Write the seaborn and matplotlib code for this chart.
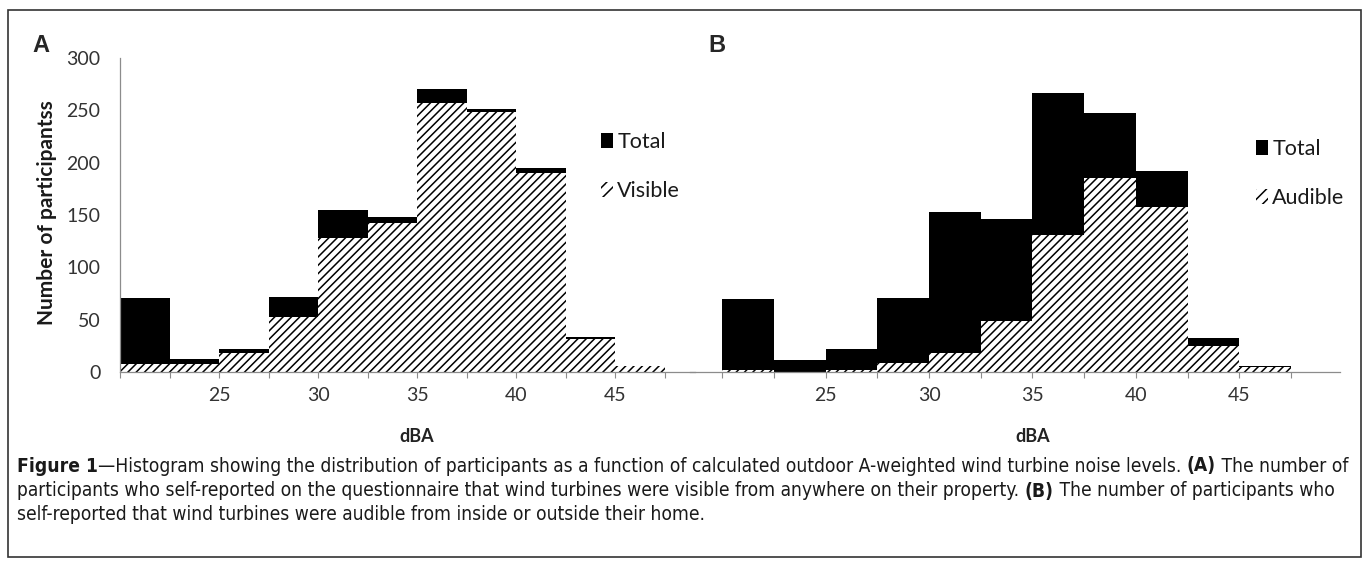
import matplotlib
matplotlib.use("Agg")
import matplotlib.pyplot as plt
import seaborn as sns
import pandas as pd
from matplotlib.patches import Patch, Rectangle
from matplotlib.ticker import FixedLocator
from matplotlib.transforms import blended_transform_factory

# ---------------- data ----------------
bin_edges = [20, 22.5, 25, 27.5, 30, 32.5, 35, 37.5, 40, 42.5, 45, 47.5]
total = [71, 12, 22, 72, 155, 148, 270, 251, 195, 33, 6]
visible = [8, 8, 18, 53, 128, 142, 257, 248, 190, 32, 6]
audible = [2, 0, 2, 9, 18, 49, 133, 188, 160, 25, 5]
x_tick_values = [25, 30, 35, 40, 45]
y_tick_values = [0, 50, 100, 150, 200, 250, 300]
panel_labels = ["A", "B"]
legend_labels_A = ["Total", "Visible"]
legend_labels_B = ["Total", "Audible"]
caption_lines = [
    [("Figure 1", True),
     ("\u2014Histogram showing the distribution of participants as a function of calculated outdoor A-weighted wind turbine noise levels. ", False),
     ("(A)", True), (" The number of", False)],
    [("participants who self-reported on the questionnaire that wind turbines were visible from anywhere on their property. ", False),
     ("(B)", True), (" The number of participants who", False)],
    [("self-reported that wind turbines were audible from inside or outside their home.", False)],
]

centers = [(a + b) / 2 for a, b in zip(bin_edges[:-1], bin_edges[1:])]
df = pd.DataFrame({"dBA": centers, "total": total, "visible": visible, "audible": audible})

# ---------------- style ----------------
sns.set_style("white")
plt.rcParams["font.family"] = ["Lato", "DejaVu Sans"]
plt.rcParams["hatch.color"] = "black"
plt.rcParams["hatch.linewidth"] = 1.1

W, H = 1367, 563
fig = plt.figure(figsize=(W / 100, H / 100), dpi=100)

def px_axes(x0, y_top, x1, y_bot):
    return fig.add_axes([x0 / W, 1 - y_bot / H, (x1 - x0) / W, (y_bot - y_top) / H])

axA = px_axes(120, 58, 695, 372)
axB = px_axes(690, 58, 1340, 372)

tick_col = "#333333"
spine_col = "#8c8c8c"
HATCH = "////"

def draw_panel(ax, sub_col, xlim, ylim, leg_labels, leg_pos):
    sns.histplot(data=df, x="dBA", weights="total", bins=bin_edges, color="black",
                 alpha=1, linewidth=0, ax=ax)
    n_before = len(ax.patches)
    sns.histplot(data=df, x="dBA", weights=sub_col, bins=bin_edges, color="white",
                 alpha=1, ax=ax, facecolor="white", edgecolor="black", linewidth=0,
                 hatch=HATCH)
    for p in ax.patches[n_before:]:
        p.set_facecolor("white")
        p.set_edgecolor("black")
        p.set_linewidth(0)
        p.set_hatch(HATCH)
    ax.set_xlim(*xlim)
    ax.set_ylim(*ylim)
    ax.set_ylabel("")
    ax.xaxis.set_major_locator(FixedLocator(x_tick_values))
    ax.set_xticklabels([str(v) for v in x_tick_values])
    ax.xaxis.set_minor_locator(FixedLocator([e for e in bin_edges if xlim[0] <= e <= xlim[1]]))
    ax.tick_params(axis="x", which="both", direction="out", length=4, width=0.8,
                   color=spine_col, bottom=True, labelsize=14, labelcolor=tick_col, pad=7)
    for s in ["top", "right"]:
        ax.spines[s].set_visible(False)
    ax.spines["bottom"].set_color(spine_col)
    ax.spines["bottom"].set_linewidth(0.9)
    ax.set_xlabel("dBA", fontsize=13, fontweight="bold", color="#222222")
    tr = blended_transform_factory(ax.transData, fig.transFigure)
    ax.xaxis.set_label_coords(35, 1 - 437 / H, transform=tr)
    ax.xaxis.label.set_va("center")
    handles = [Patch(facecolor="black", edgecolor="black", linewidth=0),
               Patch(facecolor="white", edgecolor="black", linewidth=0, hatch="///")]
    leg = ax.legend(handles, leg_labels, loc="upper left",
                    bbox_to_anchor=(leg_pos[0] / W, 1 - leg_pos[1] / H),
                    bbox_transform=fig.transFigure, frameon=False, fontsize=15.5,
                    handlelength=0.55, handleheight=0.75, handletextpad=0.2,
                    labelspacing=1.35, borderpad=0, borderaxespad=0)
    for t in leg.get_texts():
        t.set_color("#1a1a1a")

draw_panel(axA, "visible", (20, 49.04), (0, 300), legend_labels_A, (601, 132))
draw_panel(axB, "audible", (18.45, 49.86), (0, 304), legend_labels_B, (1256, 139))

# panel A y axis
axA.set_yticks(y_tick_values)
axA.tick_params(axis="y", length=0, labelsize=14, labelcolor=tick_col, pad=14)
axA.spines["left"].set_color(spine_col)
axA.spines["left"].set_linewidth(0.9)
axA.set_ylabel("Number of participantss", fontsize=15, fontweight="bold", color="#1a1a1a")
axA.yaxis.set_label_coords(57 / W, 1 - 213 / H, transform=fig.transFigure)

# panel B: no y axis
axB.spines["left"].set_visible(False)
axB.set_yticks([])
axB.patch.set_alpha(0)

# panel letters
fig.text(41 / W, 1 - 45 / H, panel_labels[0], fontsize=17, fontweight="bold",
         family=["Liberation Sans", "DejaVu Sans"], ha="center", va="center")
fig.text(717 / W, 1 - 45 / H, panel_labels[1], fontsize=17, fontweight="bold",
         family=["Liberation Sans", "DejaVu Sans"], ha="center", va="center")

# figure border
fig.patches.append(Rectangle((8 / W, 1 - 557 / H), (1361 - 8) / W, (557 - 10) / H,
                             transform=fig.transFigure, fill=False,
                             edgecolor="#333333", linewidth=1.2))

# caption with mixed bold segments
renderer = fig.canvas.get_renderer()
cap_family = ["DejaVu Sans"]
cap_stretch = "condensed"

def measure(segments, size):
    tot = 0
    for txt, bold in segments:
        t = fig.text(0, 0, txt, fontsize=size, fontweight="bold" if bold else "normal",
                     family=cap_family, fontstretch=cap_stretch)
        tot += t.get_window_extent(renderer).width
        t.remove()
    return tot

size = 11.0
for _ in range(3):
    w = measure(caption_lines[0], size)
    size = size * (1349 - 17) / w

for segments, y in zip(caption_lines, [466, 491, 515]):
    x = 17
    for txt, bold in segments:
        t = fig.text(x / W, 1 - y / H, txt, fontsize=size,
                     fontweight="bold" if bold else "normal", family=cap_family,
                     fontstretch=cap_stretch, va="center", ha="left", color="#1a1a1a")
        x += t.get_window_extent(renderer).width

fig.savefig("out.png", dpi=100)
